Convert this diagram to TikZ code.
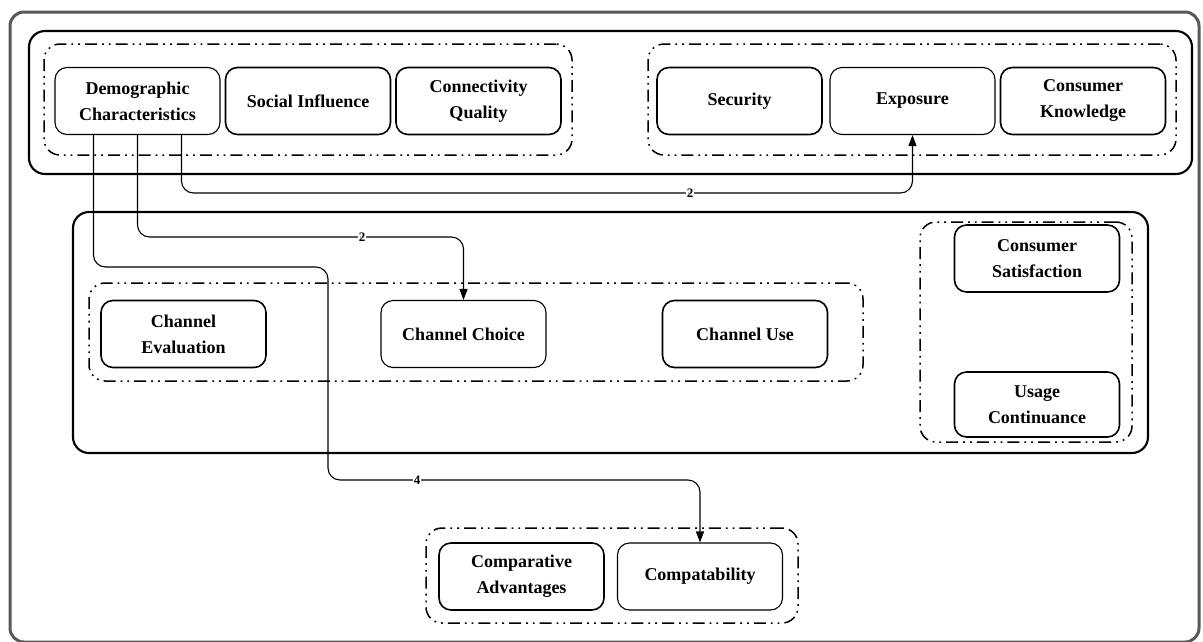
\documentclass[tikz,border=0pt]{standalone}
\usepackage{fontspec}
\setmainfont{Liberation Serif}
\usetikzlibrary{arrows.meta}
\tikzset{
  box/.style={draw, rounded corners=12pt, line width=1.6pt, align=center,
    font=\fontsize{18}{26}\selectfont\bfseries, minimum width=165pt, minimum height=67pt, inner sep=2pt},
  thinbox/.style={box, line width=1.1pt},
  group/.style={draw, rounded corners=16pt, line width=1.5pt,
    dash pattern=on 12pt off 5pt on 1.8pt off 5pt on 1.8pt off 5pt, inner sep=0pt},
  container/.style={draw, rounded corners=16pt, line width=2.1pt, inner sep=0pt},
  frame/.style={draw=black!65, rounded corners=14pt, line width=3pt, inner sep=0pt},
  conn/.style={line width=1.1pt, rounded corners=12pt, -{Triangle[length=11pt,width=8pt]}},
  lbl/.style={fill=white, inner sep=0.8pt, font=\fontsize{13}{13}\selectfont\bfseries}
}
\begin{document}
\begin{tikzpicture}[x=1pt,y=-1pt]
\useasboundingbox (0,0) rectangle (1203,641);
% outer frame
\node[frame, minimum width=1189pt, minimum height=630pt] (outer) at (604.5,327) {};
% containers
\node[container, minimum width=1163pt, minimum height=143pt] (top) at (610.5,102.5) {};
\node[container, minimum width=1075pt, minimum height=241pt] (mid) at (610.5,332.5) {};
% groups
\node[group, minimum width=528pt, minimum height=111pt] (gl) at (308,99.5) {};
\node[group, minimum width=528pt, minimum height=111pt] (gr) at (912,99.5) {};
\node[group, minimum width=774pt, minimum height=98pt] (gc) at (476,332) {};
\node[group, minimum width=212pt, minimum height=220pt] (gs) at (1026,332) {};
\node[group, minimum width=372pt, minimum height=95pt] (gb) at (612,575.5) {};
% top row
\node[thinbox] (demo) at (137.5,101) {Demographic\\Characteristics};
\node[box] (soc) at (308,101) {Social Influence};
\node[box] (conq) at (478.5,101) {Connectivity\\Quality};
\node[box] (sec) at (739.5,101) {Security};
\node[thinbox] (expo) at (912.5,101) {Exposure};
\node[box] (ck) at (1083,101) {Consumer\\Knowledge};
% middle
\node[box] (ceval) at (183.5,334) {Channel\\Evaluation};
\node[thinbox] (cchoice) at (463.5,334) {Channel Choice};
\node[box] (cuse) at (745,334) {Channel Use};
\node[box] (csat) at (1037,258.5) {Consumer\\Satisfaction};
\node[box, minimum height=65pt] (ucont) at (1037,404.5) {Usage\\Continuance};
% bottom
\node[box] (cadv) at (521.5,576.5) {Comparative\\Advantages};
\node[thinbox] (compat) at (700,576.5) {Compatability};
% connectors
\coordinate (d1) at ([xshift=44pt]demo.south);
\coordinate (d3) at ([xshift=-44pt]demo.south);
\draw[conn] (d1) |- (690,193) node[lbl] {2} -| (expo.south);
\draw[conn] (demo.south) |- (362,237) node[lbl] {2} -| (cchoice.north);
\draw[conn] (d3) |- (328,267) |- (417,480) node[lbl] {4} -| (compat.north);
\end{tikzpicture}
\end{document}
